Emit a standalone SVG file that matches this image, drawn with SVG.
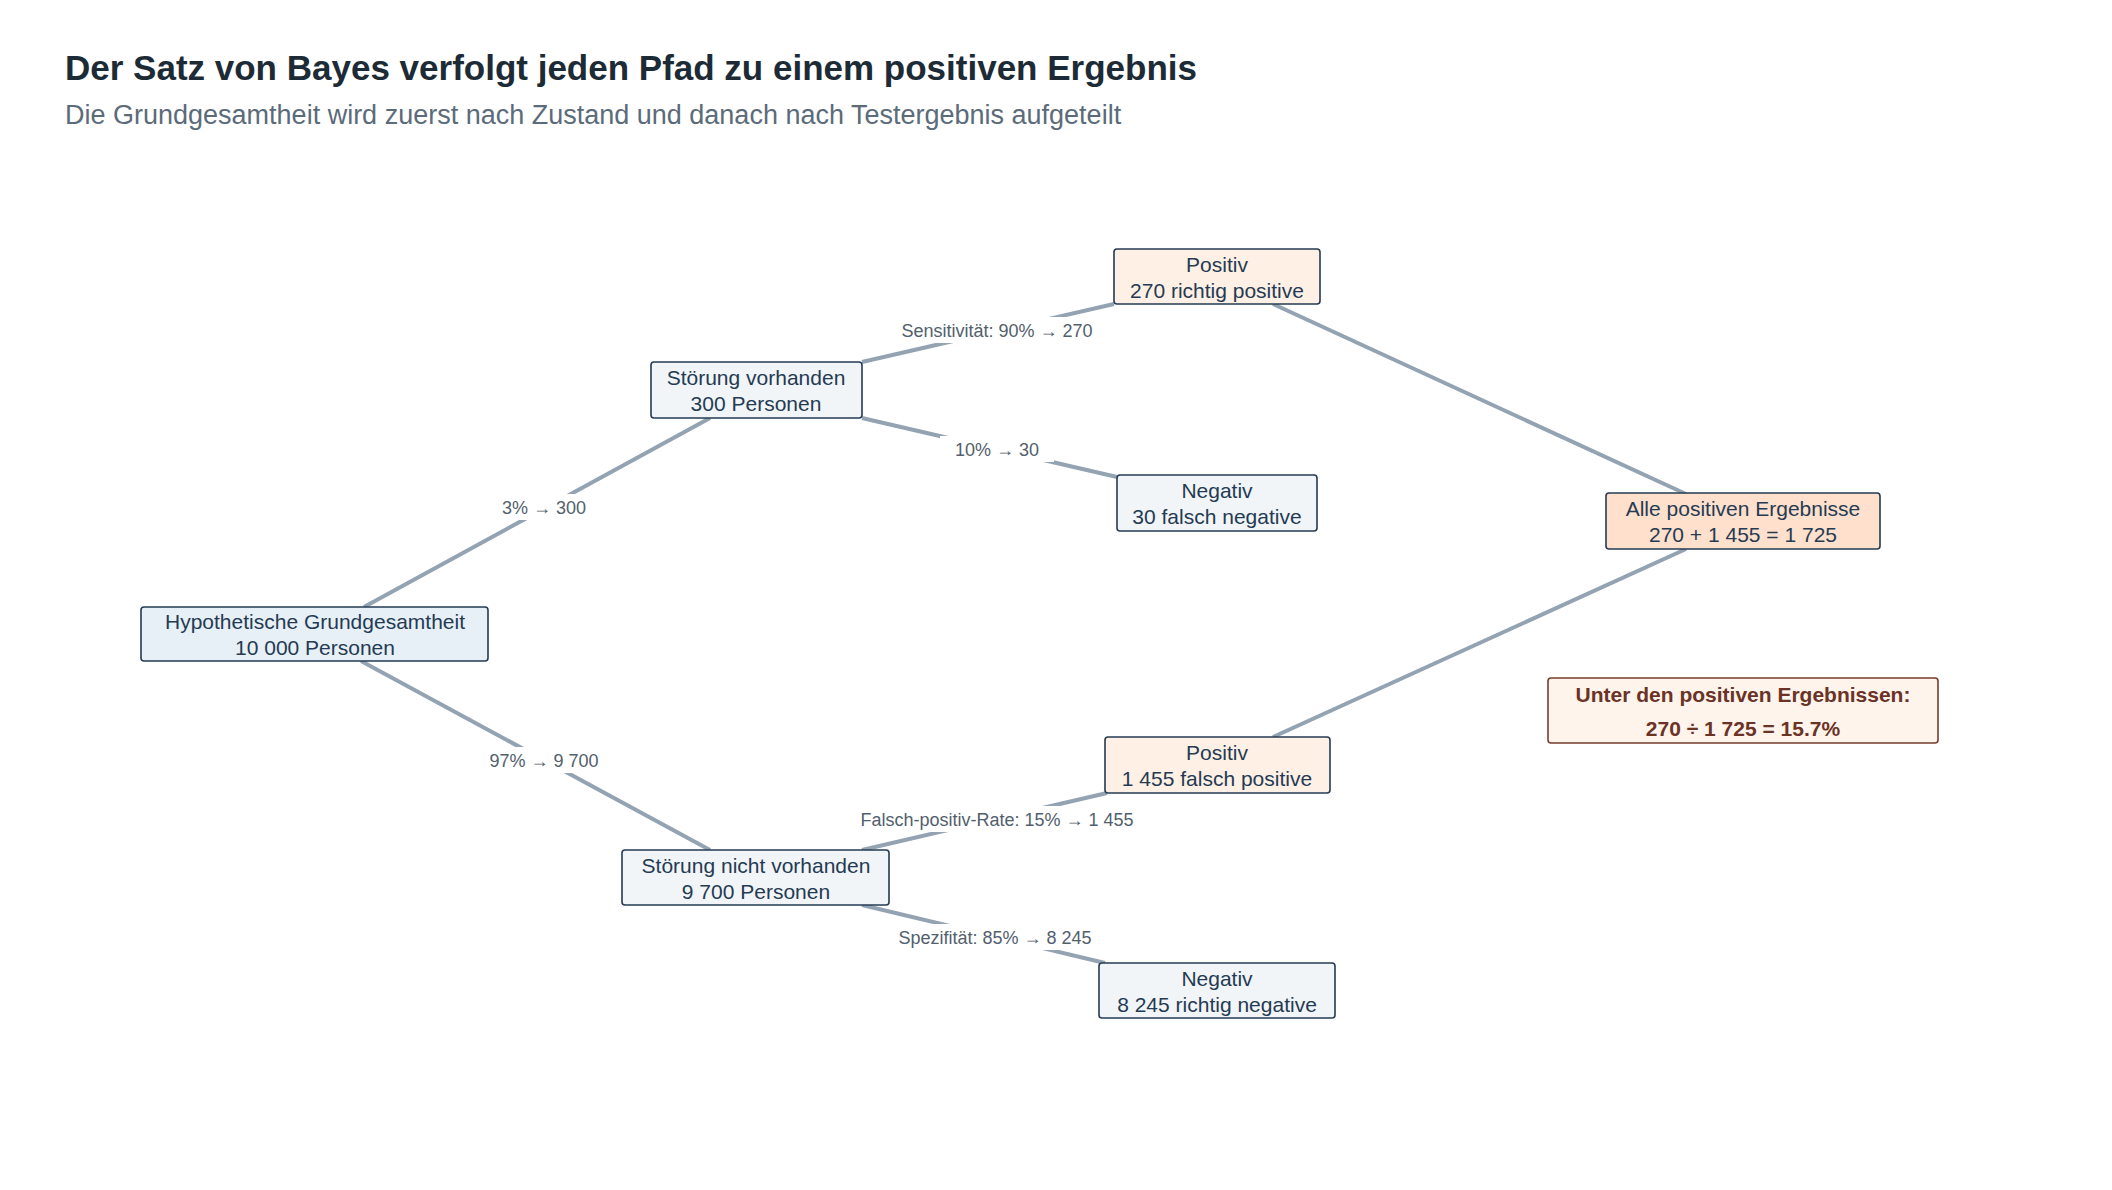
<svg xmlns="http://www.w3.org/2000/svg" width="2112" height="1190" viewBox="0 0 2112 1190">
<style>
text{font-family:"Liberation Sans",Arial,sans-serif}
.n{stroke:#243b53;stroke-width:1.6}
.nt{font-size:21px;fill:#243b53;text-anchor:middle}
.e{stroke:#94a3b1;stroke-width:4;fill:none}
.lb{fill:#fff}
.lt{font-size:18px;fill:#52606d;text-anchor:middle}
</style>
<rect width="2112" height="1190" fill="#fff"/>
<text x="65" y="80" font-size="35" font-weight="bold" fill="#1c2b36">Der Satz von Bayes verfolgt jeden Pfad zu einem positiven Ergebnis</text>
<text x="65" y="124" font-size="27" fill="#5b6b7a">Die Grundgesamtheit wird zuerst nach Zustand und danach nach Testergebnis aufgeteilt</text>
<g id="connectors">
<line class="e" x1="364" y1="607" x2="710" y2="418"/>
<line class="e" x1="361" y1="661" x2="710" y2="850"/>
<line class="e" x1="862" y1="362" x2="1114" y2="304"/>
<line class="e" x1="862" y1="418" x2="1117" y2="477"/>
<line class="e" x1="862" y1="850" x2="1107" y2="793"/>
<line class="e" x1="862" y1="905" x2="1105" y2="963"/>
<line class="e" x1="1273" y1="304" x2="1686" y2="494"/>
<line class="e" x1="1273" y1="737" x2="1686" y2="549"/>
<rect class="lb" x="486" y="494" width="116" height="26"/><text class="lt" x="544" y="514">3%  →  300</text>
<rect class="lb" x="470" y="747" width="148" height="26"/><text class="lt" x="544" y="767">97%  →  9 700</text>
<rect class="lb" x="878" y="317" width="238" height="26"/><text class="lt" x="997" y="337">Sensitivität: 90%  →  270</text>
<rect class="lb" x="940" y="436" width="114" height="26"/><text class="lt" x="997" y="456">10%  →  30</text>
<rect class="lb" x="832" y="806" width="330" height="26"/><text class="lt" x="997" y="826">Falsch-positiv-Rate: 15%  →  1 455</text>
<rect class="lb" x="876" y="924" width="238" height="26"/><text class="lt" x="995" y="944">Spezifität: 85%  →  8 245</text>
</g>
<g id="hypo"><rect class="n" x="141" y="607" width="347" height="54" rx="3" fill="#e8f0f7"/><text class="nt" x="315" y="629">Hypothetische Grundgesamtheit</text><text class="nt" x="315" y="655">10 000 Personen</text></g>
<g id="sv"><rect class="n" x="651" y="362" width="211" height="56" rx="3" fill="#f2f5f8"/><text class="nt" x="756" y="385">Störung vorhanden</text><text class="nt" x="756" y="411">300 Personen</text></g>
<g id="pos270"><rect class="n" x="1114" y="249" width="206" height="55" rx="3" fill="#fff0e5"/><text class="nt" x="1217" y="272">Positiv</text><text class="nt" x="1217" y="298">270 richtig positive</text></g>
<g id="neg30"><rect class="n" x="1117" y="475" width="200" height="56" rx="3" fill="#f2f5f8"/><text class="nt" x="1217" y="498">Negativ</text><text class="nt" x="1217" y="524">30 falsch negative</text></g>
<g id="alle"><rect class="n" x="1606" y="493" width="274" height="56" rx="3" fill="#ffe0cc"/><text class="nt" x="1743" y="516">Alle positiven Ergebnisse</text><text class="nt" x="1743" y="542">270 + 1 455 = 1 725</text></g>
<g id="unter"><rect x="1548" y="678" width="390" height="65" rx="3" fill="#fff4ec" stroke="#7a3b2e" stroke-width="1.6"/><text x="1743" y="702" font-size="21" font-weight="bold" fill="#6b3226" text-anchor="middle">Unter den positiven Ergebnissen:</text><text x="1743" y="736" font-size="21" font-weight="bold" fill="#6b3226" text-anchor="middle">270 ÷ 1 725 = 15.7%</text></g>
<g id="pos1455"><rect class="n" x="1105" y="737" width="225" height="56" rx="3" fill="#fff0e5"/><text class="nt" x="1217" y="760">Positiv</text><text class="nt" x="1217" y="786">1 455 falsch positive</text></g>
<g id="sn"><rect class="n" x="622" y="850" width="267" height="55" rx="3" fill="#f2f5f8"/><text class="nt" x="756" y="873">Störung nicht vorhanden</text><text class="nt" x="756" y="899">9 700 Personen</text></g>
<g id="neg8245"><rect class="n" x="1099" y="963" width="236" height="55" rx="3" fill="#f2f5f8"/><text class="nt" x="1217" y="986">Negativ</text><text class="nt" x="1217" y="1012">8 245 richtig negative</text></g>
</svg>
